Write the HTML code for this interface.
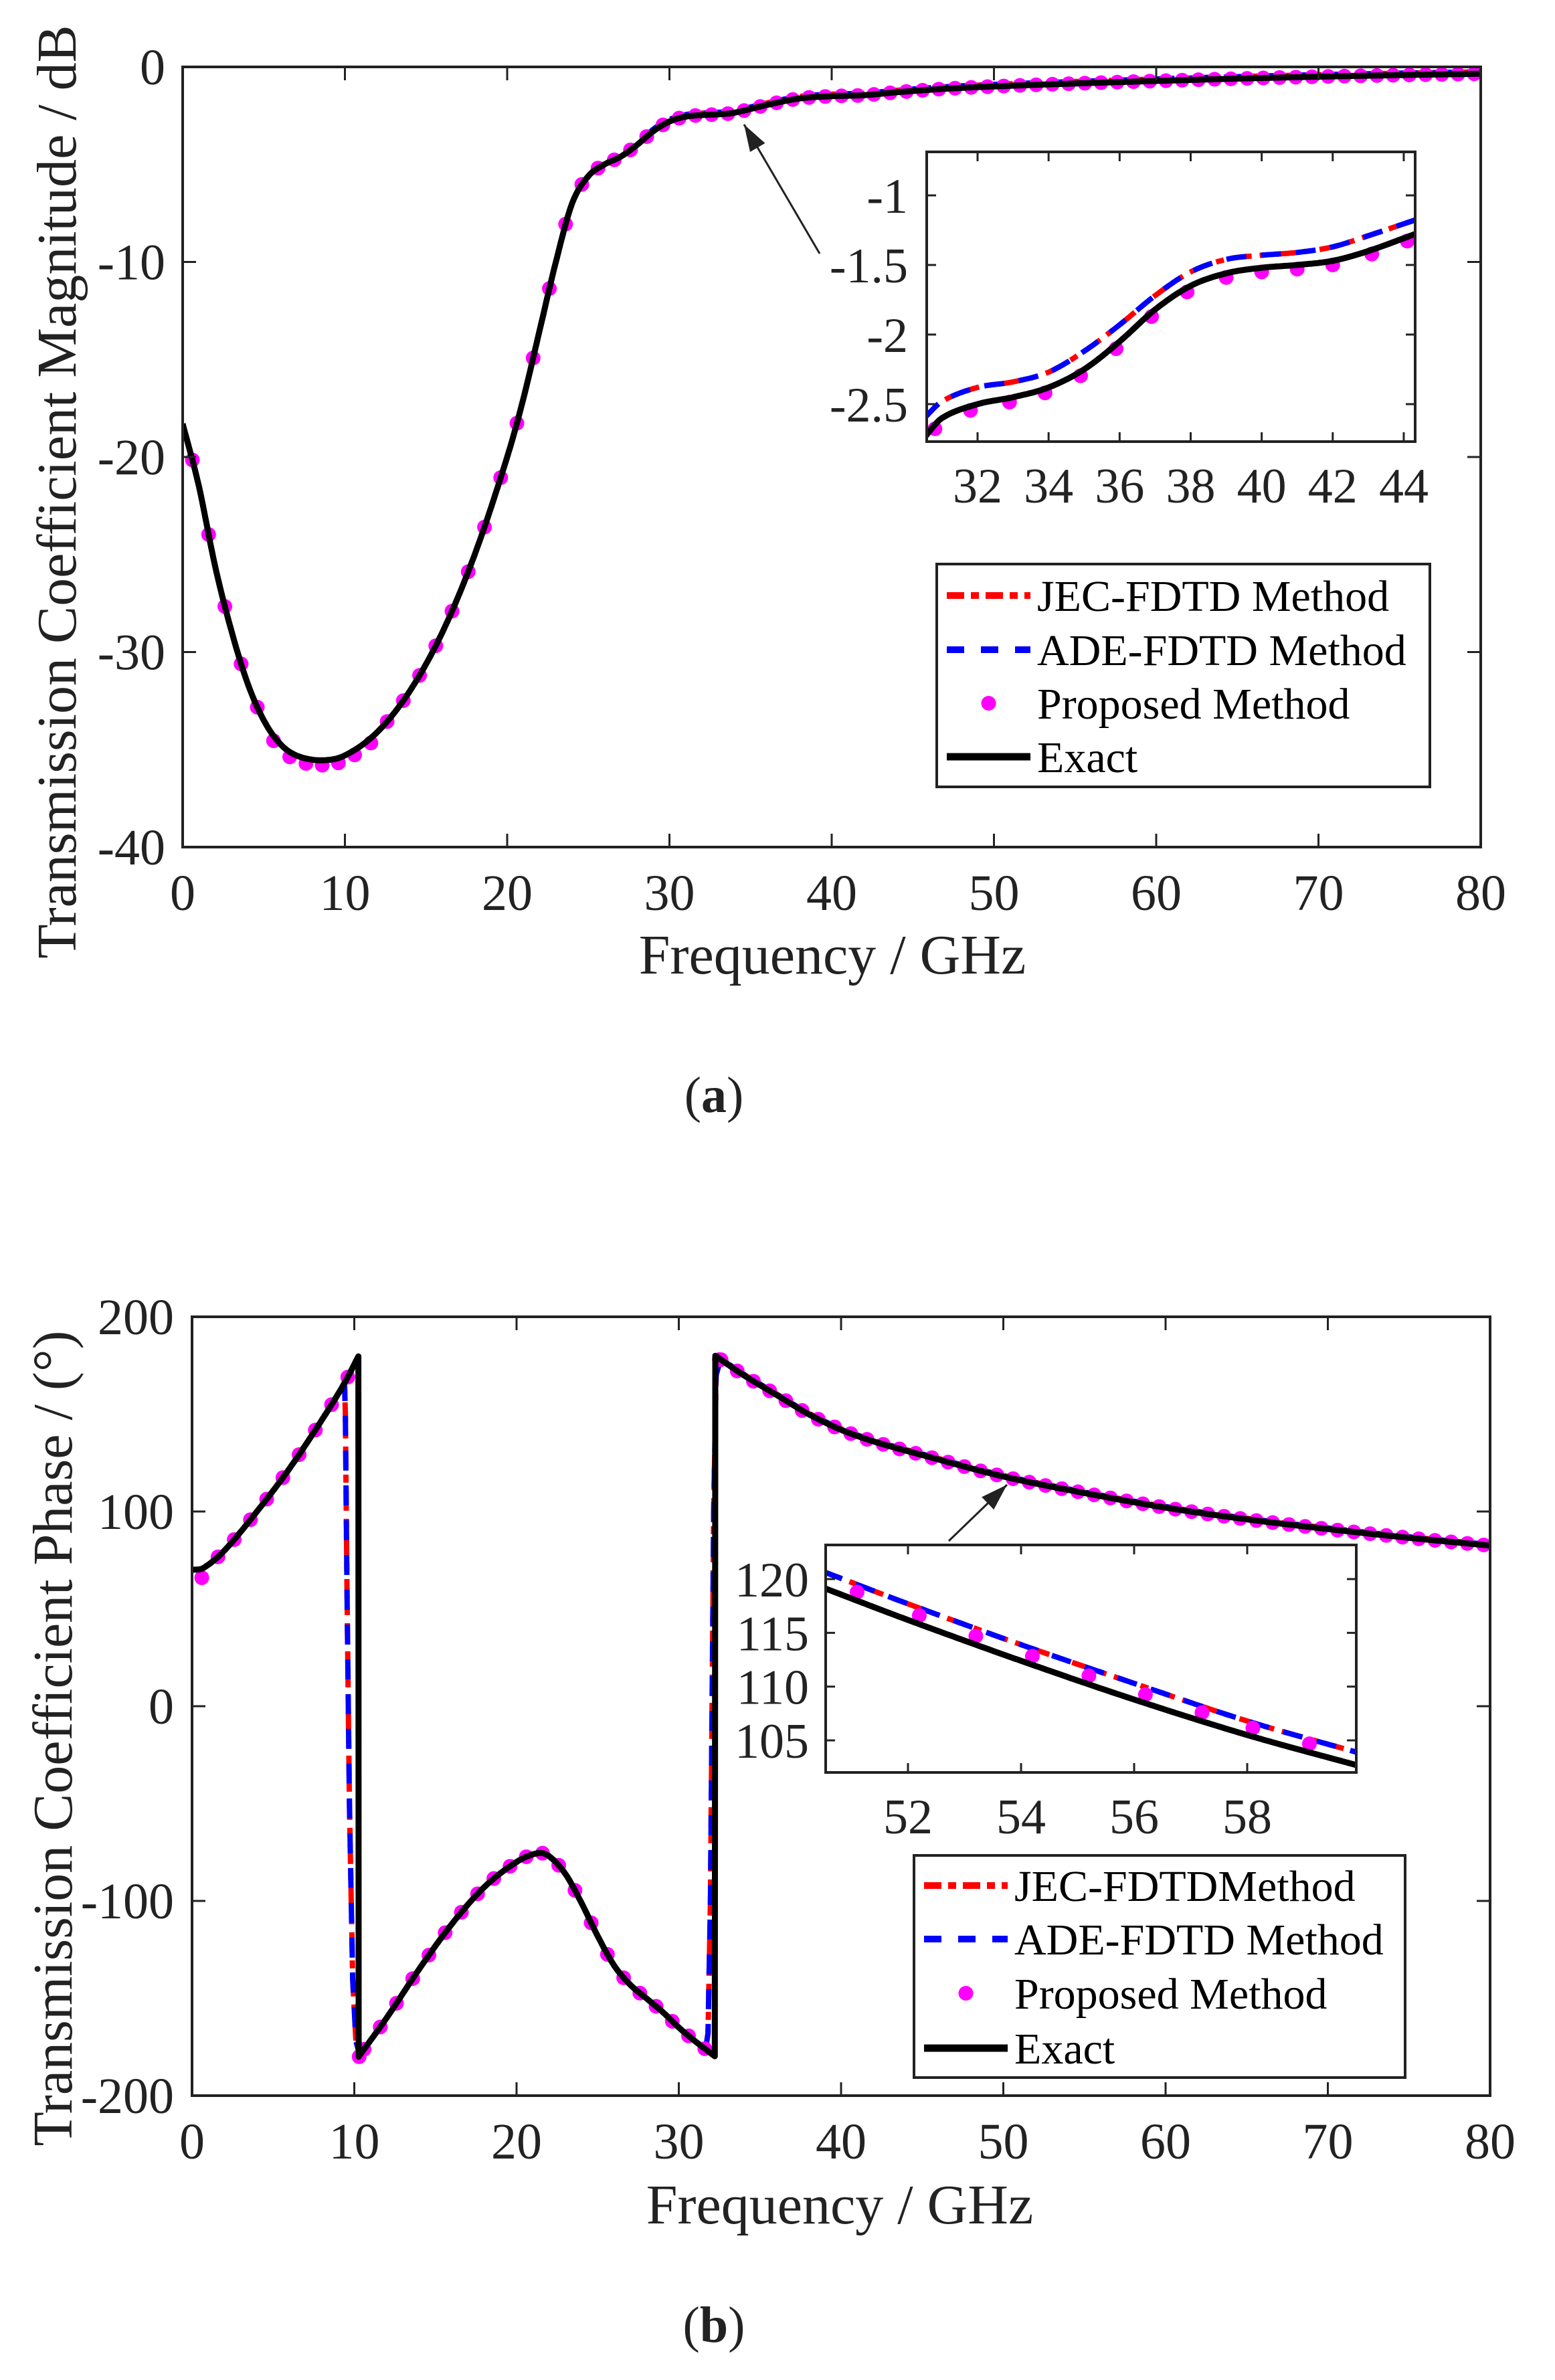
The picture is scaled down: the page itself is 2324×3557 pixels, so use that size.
<!DOCTYPE html>
<html><head><meta charset="utf-8"><style>
html,body{margin:0;padding:0;background:#fff;}
svg{display:block;}
text{font-family:"Liberation Serif","Times New Roman",serif;fill:#222;}
</style></head><body>
<svg id="s" xmlns="http://www.w3.org/2000/svg" width="2324" height="3557" viewBox="0 0 2324 3557">
<rect width="2324" height="3557" fill="#fff"/>
<g id="g"></g>
</svg>
<script>
const NS="http://www.w3.org/2000/svg";
const G=document.getElementById('g');
function el(t,a,p){const e=document.createElementNS(NS,t);for(const k in a)e.setAttribute(k,a[k]);(p||G).appendChild(e);return e;}
function txt(x,y,s,size,anchor,extra){const e=el('text',Object.assign({x:x,y:y,'font-size':size,'text-anchor':anchor||'middle'},extra||{}));e.textContent=s;return e;}
function interp(pts,x){
  if(x<=pts[0][0])return pts[0][1];
  for(let i=0;i<pts.length-1;i++){
    if(x<=pts[i+1][0]){
      const p0=pts[Math.max(0,i-1)],p1=pts[i],p2=pts[i+1],p3=pts[Math.min(pts.length-1,i+2)];
      const t=(x-p1[0])/(p2[0]-p1[0]);
      const h=p2[0]-p1[0];
      const m1=(p2[1]-p0[1])/(p2[0]-p0[0])*h, m2=(p3[1]-p1[1])/(p3[0]-p1[0])*h;
      const t2=t*t,t3=t2*t;
      return (2*t3-3*t2+1)*p1[1]+(t3-2*t2+t)*m1+(-2*t3+3*t2)*p2[1]+(t3-t2)*m2;
    }
  }
  return pts[pts.length-1][1];
}
function pathFrom(pts,x0,x1,X,Y,step){
  let d='';for(let x=x0;x<=x1+1e-9;x+=step){d+=(d?'L':'M')+X(x).toFixed(1)+','+Y(interp(pts,x)).toFixed(1);}return d;
}
function axes(L,T,R,B,xt,yt,X,Y,fs,xlab,ylab,xlb,ylr,tl){
  el('rect',{x:L,y:T,width:R-L,height:B-T,fill:'none',stroke:'#222','stroke-width':4});
  xt.forEach(v=>{const x=X(v);el('line',{x1:x,y1:B,x2:x,y2:B-tl,stroke:'#222','stroke-width':3});el('line',{x1:x,y1:T,x2:x,y2:T+tl,stroke:'#222','stroke-width':3});if(xlab)txt(x,xlb,xlab(v),fs);});
  yt.forEach(v=>{const y=Y(v);el('line',{x1:L,y1:y,x2:L+tl,y2:y,stroke:'#222','stroke-width':3});el('line',{x1:R,y1:y,x2:R-tl,y2:y,stroke:'#222','stroke-width':3});if(ylab)txt(ylr,y+26,ylab(v),fs,'end');});
}
function series(d,clip,color,w,dash){const a={d:d,fill:'none',stroke:color,'stroke-width':w,'stroke-linejoin':'round'};if(dash)a['stroke-dasharray']=dash;if(clip)a['clip-path']='url(#'+clip+')';el('path',a);}
function dots(arr,color,r,clip){const g=el('g',clip?{'clip-path':'url(#'+clip+')'}:{});arr.forEach(p=>el('circle',{cx:p[0],cy:p[1],r:r,fill:color},g));}
const defs=el('defs',{});
function clipRect(id,x,y,w,h){const c=el('clipPath',{id:id},defs);el('rect',{x:x,y:y,width:w,height:h},c);}
const RED='#ff0000',BLUE='#0000ff',MAG='#ff00ff';
const DDOT='30,12,12,12',DASH='30,22';
const LW=8,EW=9,DR=11;
function legend(x1,y1,x2,y2,rows,labels){
  el('rect',{x:x1,y:y1,width:x2-x1,height:y2-y1,fill:'#fff',stroke:'#222','stroke-width':4});
  const lx1=x1+15,lx2=x1+140,tx=x1+150;
  series(`M${lx1},${rows[0]}L${lx2},${rows[0]}`,null,RED,10,'26,10,12,10');
  series(`M${lx1},${rows[1]}L${lx2},${rows[1]}`,null,BLUE,10,'26,25');
  el('circle',{cx:(lx1+lx2)/2,cy:rows[2],r:11,fill:MAG});
  series(`M${lx1},${rows[3]}L${lx2},${rows[3]}`,null,'#000',11);
  labels.forEach((s,i)=>{const t=txt(tx,rows[i]+23,s,66,'start');t.style.fill='#000';});
}
function arrow(x1,y1,x2,y2){
  el('line',{x1:x1,y1:y1,x2:x2,y2:y2,stroke:'#222','stroke-width':3});
  const a=Math.atan2(y2-y1,x2-x1),L=40,W=13;
  const bx=x2-L*Math.cos(a),by=y2-L*Math.sin(a);
  el('polygon',{points:`${x2},${y2} ${bx+W*Math.sin(a)},${by-W*Math.cos(a)} ${bx-W*Math.sin(a)},${by+W*Math.cos(a)}`,fill:'#222'});
}

/* ---------- Plot (a) ---------- */
(function(){
const L=273,R=2213,T=100,B=1266;
const X=f=>L+(f/80)*(R-L), Y=v=>T+(0-v)/40*(B-T);
const mag=[[0,-18.3],[1,-21.5],[2,-25.6],[3,-28.9],[4,-31.6],[5,-33.5],[6,-34.7],[7,-35.3],[8.5,-35.55],[10,-35.3],[12,-34.1],[14,-32],[16,-29],[18,-25],[20,-20],[21,-17],[22,-13.5],[23,-10],[24,-7],[25,-5.6],[26,-5],[27,-4.6],[28,-4],[29,-3.3],[30,-2.8],[31,-2.55],[32,-2.47],[33,-2.43],[34,-2.35],[36,-1.95],[38,-1.62],[40,-1.5],[42,-1.45],[44,-1.3],[47,-1.12],[50,-1.0],[55,-0.85],[60,-0.72],[65,-0.6],[70,-0.5],[75,-0.42],[80,-0.35]];
const magU=mag.map(p=>[p[0],p[0]>28?p[1]+0.1:p[1]]);
clipRect('ca',L,T,R-L,B-T);
series(pathFrom(magU,0,80,X,Y,0.1),'ca',RED,LW,DDOT);
series(pathFrom(magU,0,80,X,Y,0.1),'ca',BLUE,LW,DASH);
const dd=[];for(let f=0.6;f<=80;f+=1.0){let v=interp(mag,f);if(f>5&&f<12)v-=0.25;dd.push([X(f),Y(v)]);}
dots(dd,MAG,DR,'ca');
series(pathFrom(mag,0,80,X,Y,0.1),'ca','#000',EW);
axes(L,T,R,B,[0,10,20,30,40,50,60,70,80],[0,-10,-20,-30,-40],X,Y,76,v=>String(v),v=>String(v),1360,247,20);
txt(1244,1455,'Frequency / GHz',84);
txt(0,0,'Transmission Coefficient Magnitude / dB',84,'middle',{transform:'translate(113,735) rotate(-90)'});
arrow(1225,379,1112,186);
const iL=1385,iR=2115,iT=227,iB=660;
const IX=f=>1461+(f-32)*53.08, IY=v=>292+(-1-v)*208;
el('rect',{x:iL,y:iT,width:iR-iL,height:iB-iT,fill:'#fff'});
clipRect('cai',iL,iT,iR-iL,iB-iT);
const ex=[[30.5,-2.74],[31,-2.6],[32,-2.5],[33,-2.45],[34,-2.38],[35,-2.25],[36,-2.05],[37,-1.82],[38,-1.65],[39,-1.56],[40,-1.52],[41,-1.5],[42,-1.47],[43,-1.4],[44.4,-1.27]];
const up=[[30.5,-2.6],[31,-2.48],[32,-2.38],[33,-2.34],[34,-2.27],[35,-2.12],[36,-1.93],[37,-1.72],[38,-1.55],[39,-1.46],[40,-1.43],[41,-1.41],[42,-1.37],[43,-1.29],[44.4,-1.17]];
series(pathFrom(up,30.5,44.4,IX,IY,0.05),'cai',RED,LW,DDOT);
series(pathFrom(up,30.5,44.4,IX,IY,0.05),'cai',BLUE,LW,DASH);
const id=[];[30.8,31.8,32.9,33.9,34.9,35.9,36.9,37.9,39,40,41,42,43.1,44.1].forEach(f=>id.push([IX(f),IY(interp(ex,f)-0.03)]));
dots(id,MAG,DR,'cai');
series(pathFrom(ex,30.5,44.4,IX,IY,0.05),'cai','#000',EW);
axes(iL,iT,iR,iB,[32,34,36,38,40,42,44],[-1,-1.5,-2,-2.5],IX,IY,74,v=>String(v),v=>String(v),751,1357,14);
legend(1400,843,2137,1176,[890,971,1051,1131],['JEC-FDTD Method','ADE-FDTD Method','Proposed Method','Exact']);
const c=txt(1067,1662,'',76);c.innerHTML='(<tspan font-weight="bold">a</tspan>)';
})();

/* ---------- Plot (b) ---------- */
(function(){
const L=287,R=2227,T=1968,B=3132;
const X=f=>L+(f/80)*(R-L), Y=v=>T+(200-v)/400*(B-T);
const s1=[[0,70],[0.7,71],[2,80],[4,100],[6,122],[8,147],[9.4,166],[10.27,180]];
const s2=[[10.27,-180],[12,-160],[14,-135],[16,-112],[18,-93],[20,-80],[21.3,-75.5],[22,-77],[23,-86],[24,-101],[25,-118],[26,-133],[27,-143],[28,-150],[29,-157],[30,-165],[31,-172],[32.25,-180]];
const s3=[[32.25,180],[34,170],[36,160],[38,150],[40,142],[42,136],[45,129],[50,118],[55,109.5],[60,102],[65,96],[70,91],[75,86.5],[80,82.5]];
clipRect('cb',L,T,R-L,B-T);
function full(off){
  let d=pathFrom(s1,0,9.4,X,Y,0.1);
  d+='L'+X(9.45)+','+Y(150)+'L'+X(9.55)+','+Y(60)+'L'+X(9.7)+','+Y(-50)+'L'+X(9.9)+','+Y(-140)+'L'+X(10.1)+','+Y(-172)+'L'+X(10.3)+','+Y(-178);
  d+=pathFrom(s2,10.35,31.7,X,Y,0.1).replace(/^M/,'L');
  d+='L'+X(31.8)+','+Y(-168)+'L'+X(31.95)+','+Y(-100)+'L'+X(32.05)+','+Y(0)+'L'+X(32.15)+','+Y(100)+'L'+X(32.3)+','+Y(170)+'L'+X(32.5)+','+Y(176);
  d+=pathFrom(s3.map(p=>[p[0],p[1]+off]),32.6,80,X,Y,0.1).replace(/^M/,'L');
  return d;
}
series(full(0.5),'cb',RED,LW,DDOT);
series(full(0.5),'cb',BLUE,LW,DASH);
const dd=[];for(let f=0.6;f<=80;f+=1.0){let v;if(f<10.3)v=interp(s1,f);else if(f<32.3)v=interp(s2,f);else v=interp(s3,f);if(f<1)v=66;dd.push([X(f),Y(v)]);}
dd.push([X(10.3),Y(-180)]);dd.push([X(32.5),Y(178)]);
dots(dd,MAG,DR,'cb');
let d=pathFrom(s1,0,10.27,X,Y,0.05)+'L'+X(10.27)+','+Y(-180)+pathFrom(s2,10.27,32.25,X,Y,0.05).replace(/^M/,'L')+'L'+X(32.25)+','+Y(180)+pathFrom(s3,32.25,80,X,Y,0.05).replace(/^M/,'L');
series(d,'cb','#000',EW);
axes(L,T,R,B,[0,10,20,30,40,50,60,70,80],[200,100,0,-100,-200],X,Y,76,v=>String(v),v=>String(v),3226,260,20);
txt(1255,3323,'Frequency / GHz',84);
txt(0,0,'Transmission Coefficient Phase / (°)',84,'middle',{transform:'translate(107,2598) rotate(-90)'});
arrow(1418,2303,1505,2219);
const iL=1234,iR=2027,iT=2309,iB=2649;
const IX=f=>1357+(f-52)*84.5, IY=v=>2360+(120-v)*16.07;
el('rect',{x:iL,y:iT,width:iR-iL,height:iB-iT,fill:'#fff'});
clipRect('cbi',iL,iT,iR-iL,iB-iT);
const ex=[[50.5,119.2],[52,116.2],[54,112.4],[56,108.8],[58,105.5],[60,102.6]];
const up=[[50.5,120.7],[52,117.7],[54,113.9],[56,110.3],[58,106.8],[60,103.8]];
series(pathFrom(up,50.5,60,IX,IY,0.05),'cbi',RED,LW,DDOT);
series(pathFrom(up,50.5,60,IX,IY,0.05),'cbi',BLUE,LW,DASH);
const id=[];[51.1,52.2,53.2,54.2,55.2,56.2,57.2,58.1,59.1].forEach(f=>id.push([IX(f),IY(interp(ex,f)+0.8)]));
dots(id,MAG,DR,'cbi');
series(pathFrom(ex,50.5,60,IX,IY,0.05),'cbi','#000',EW);
axes(iL,iT,iR,iB,[52,54,56,58],[120,115,110,105],IX,IY,74,v=>String(v),v=>String(v),2740,1209,14);
legend(1366,2773,2100,3105,[2818,2898,2979,3061],['JEC-FDTDMethod','ADE-FDTD Method','Proposed Method','Exact']);
const c=txt(1067,3500,'',76);c.innerHTML='(<tspan font-weight="bold">b</tspan>)';
})();
</script>
</body></html>
